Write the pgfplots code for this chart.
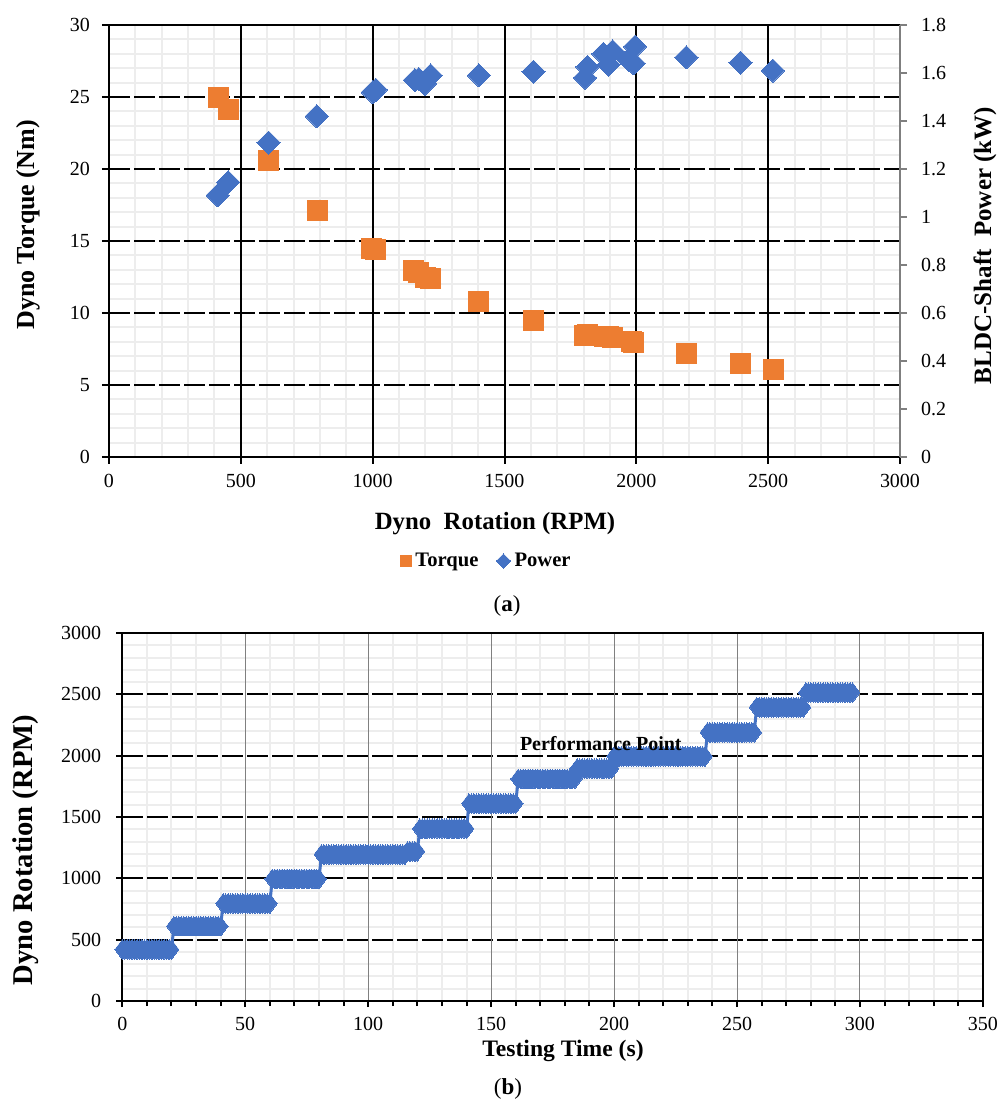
\documentclass[border=0pt]{standalone}
\usepackage{fontspec}
\setmainfont{Liberation Serif}
\usepackage{pgfplots}
\pgfplotsset{compat=1.18}
\definecolor{torq}{HTML}{ED7D31}
\definecolor{powr}{HTML}{4472C4}
\definecolor{mgrid}{HTML}{EDEDED}
\definecolor{raxis}{HTML}{7F7F7F}
\pgfplotsset{
  every axis/.append style={
    /pgf/number format/assume math mode=true,
    /pgf/number format/1000 sep={},
    scaled ticks=false,
    ticklabel style={font=\fontsize{10}{12}\selectfont},
  },
  topbox/.style={at={(54.5pt,321.5pt)}, anchor=south west,
    scale only axis, width=395.5pt, height=216pt,
    xmin=0, xmax=3000, ymin=0, ymax=30,
    xtick={0,500,...,3000}, ytick={0,5,...,30},
    minor x tick num=4, minor y tick num=4},
  botbox/.style={at={(61.15pt,49.5pt)}, anchor=south west,
    scale only axis, width=430.3pt, height=184pt,
    xmin=0, xmax=350, ymin=0, ymax=3000,
    xtick={0,50,...,350}, ytick={0,500,...,3000},
    minor x tick num=4, minor y tick num=4},
  gridonly/.style={axis line style={draw=none}, tick style={draw=none},
    major tick length=0pt, minor tick length=0pt,
    xticklabels={}, yticklabels={}},
}
\begin{document}
\begin{tikzpicture}[x=1pt,y=1pt]
\path[use as bounding box] (0,0) rectangle (504,550);
% ---------------- (a) ----------------
\begin{axis}[topbox, gridonly, xminorgrids, yminorgrids,
  minor grid style={solid, mgrid, line width=1pt}]
\end{axis}
\begin{axis}[topbox, gridonly, ymajorgrids,
  major grid style={black, line width=1pt, dash pattern=on 10.5pt off 2pt}]
\end{axis}
\begin{axis}[topbox, gridonly, xmajorgrids,
  major grid style={solid, black, line width=1pt}]
\end{axis}
\begin{axis}[topbox,
  axis line style={solid, black, line width=1pt},
  xtick pos=bottom, ytick pos=left,
  tick align=outside, major tick length=3.5pt, minor tick length=0pt,
  tick style={solid, black, line width=1pt},
  xticklabel style={yshift=-1.5pt},
  yticklabel style={xshift=-2.5pt},
  legend style={draw=none, fill=none, at={(axis description cs:0.4785,-0.2407)}, anchor=center,
    font=\bfseries\fontsize{10.3}{12}\selectfont, legend columns=2,
    /tikz/every even column/.append style={column sep=7pt}},
  legend image code/.code={\draw[#1] plot coordinates {(3pt,0pt)};},
]
\addlegendimage{only marks, mark=square*, mark size=2.75pt, color=torq, mark options={solid, line width=0pt}}
\addlegendentry{Torque}
\addlegendimage{only marks, mark=square*, mark size=2.5pt, color=powr, mark options={solid, rotate=45, line width=0pt}}
\addlegendentry{Power}
\addplot[forget plot, only marks, mark=square*, mark size=5pt, color=torq, mark options={solid, line width=0pt}] coordinates {
(415,25.0)(452,24.1)(604,20.6)(790,17.1)(995,14.5)(1010,14.4)
(1155,12.95)(1175,12.8)(1200,12.45)(1218,12.4)(1403,10.8)(1610,9.5)
(1805,8.45)(1815,8.5)(1880,8.4)(1894,8.35)(1910,8.3)(1980,8.0)(1989,7.95)
(2190,7.2)(2395,6.5)(2520,6.1)};
\end{axis}
\begin{axis}[
  at={(54.5pt,321.5pt)}, anchor=south west,
  scale only axis, width=395.5pt, height=216pt,
  xmin=0, xmax=3000, ymin=0, ymax=1.8,
  axis x line=none, axis y line*=right,
  ytick={0,0.2,0.4,0.6,0.8,1,1.2,1.4,1.6,1.8},
  y axis line style={solid, raxis, line width=1pt, -},
  tick align=outside, major tick length=3.5pt,
  ytick style={solid, raxis, line width=1pt},
  yticklabel style={xshift=3.5pt, /pgf/number format/fixed},
]
\addplot[only marks, mark=square*, mark size=4.1pt, color=powr, mark options={solid, rotate=45, line width=0pt}] coordinates {
(412,1.09)(452,1.145)(605,1.31)(788,1.42)(1000,1.52)(1012,1.53)
(1160,1.57)(1175,1.575)(1198,1.555)(1220,1.59)(1403,1.59)(1610,1.605)
(1805,1.58)(1815,1.625)(1875,1.68)(1895,1.635)(1910,1.69)(1970,1.655)
(1990,1.64)(1995,1.71)(2190,1.665)(2395,1.643)(2518,1.61)};
\end{axis}
\node[rotate=90, font=\bfseries\fontsize{13}{15}\selectfont] at (14,437.5) {Dyno Torque (Nm)};
\node[rotate=90, font=\bfseries\fontsize{12.5}{15}\selectfont] at (492.5,427.25) {BLDC-Shaft\ \ Power (kW)};
\node[anchor=base, font=\bfseries\fontsize{12.4}{15}\selectfont] at (247.5,285) {Dyno\ \ Rotation (RPM)};
\node[font=\fontsize{11.5}{14}\selectfont] at (253.5,247) {(\textbf{a})};
% ---------------- (b) ----------------
\begin{axis}[botbox, gridonly, xminorgrids, yminorgrids,
  minor grid style={solid, mgrid, line width=1pt}]
\end{axis}
\begin{axis}[botbox, gridonly, ymajorgrids,
  major grid style={black, line width=1pt, dash pattern=on 10.5pt off 2pt}]
\end{axis}
\begin{axis}[botbox, gridonly, xmajorgrids,
  major grid style={solid, gray, line width=0.5pt}]
\end{axis}
\begin{axis}[botbox,
  axis line style={solid, black, line width=1pt},
  xtick pos=bottom, ytick pos=left,
  tick align=outside, major tick length=3pt, minor tick length=2.5pt,
  tick style={solid, black, line width=1pt},
  minor y tick style={draw=none},
  xticklabel style={yshift=-1.5pt},
  yticklabel style={xshift=-4pt},
]
\addplot[color=powr, solid, line width=1.5pt, mark=diamond*, mark size=4.9pt, mark options={line width=0pt, solid}] coordinates {
(0,420)(1,420)(2,420)(3,420)(4,420)(5,420)(6,420)(7,420)(8,420)(9,420)(10,420)(11,420)(12,420)(13,420)(14,420)(15,420)(16,420)(17,420)(18,420)(19,420)(20,420)
(21,610)(22,610)(23,610)(24,610)(25,610)(26,610)(27,610)(28,610)(29,610)(30,610)(31,610)(32,610)(33,610)(34,610)(35,610)(36,610)(37,610)(38,610)(39,610)(40,610)
(41,795)(42,795)(43,795)(44,795)(45,795)(46,795)(47,795)(48,795)(49,795)(50,795)(51,795)(52,795)(53,795)(54,795)(55,795)(56,795)(57,795)(58,795)(59,795)(60,795)
(61,995)(62,995)(63,995)(64,995)(65,995)(66,995)(67,995)(68,995)(69,995)(70,995)(71,995)(72,995)(73,995)(74,995)(75,995)(76,995)(77,995)(78,995)(79,995)(80,995)
(81,1195)(82,1195)(83,1195)(84,1195)(85,1195)(86,1195)(87,1195)(88,1195)(89,1195)(90,1195)(91,1195)(92,1195)(93,1195)(94,1195)(95,1195)(96,1195)(97,1195)(98,1195)(99,1195)(100,1195)
(101,1195)(102,1195)(103,1195)(104,1195)(105,1195)(106,1195)(107,1195)(108,1195)(109,1195)(110,1195)(111,1195)(112,1195)(113,1195)(114,1195)(115,1195)
(116,1220)(117,1220)(118,1220)(119,1220)(120,1220)
(121,1405)(122,1405)(123,1405)(124,1405)(125,1405)(126,1405)(127,1405)(128,1405)(129,1405)(130,1405)(131,1405)(132,1405)(133,1405)(134,1405)(135,1405)(136,1405)(137,1405)(138,1405)(139,1405)(140,1405)
(141,1610)(142,1610)(143,1610)(144,1610)(145,1610)(146,1610)(147,1610)(148,1610)(149,1610)(150,1610)(151,1610)(152,1610)(153,1610)(154,1610)(155,1610)(156,1610)(157,1610)(158,1610)(159,1610)(160,1610)
(161,1810)(162,1810)(163,1810)(164,1810)(165,1810)(166,1810)(167,1810)(168,1810)(169,1810)(170,1810)(171,1810)(172,1810)(173,1810)(174,1810)(175,1810)(176,1810)(177,1810)(178,1810)(179,1810)(180,1810)(181,1810)(182,1810)(183,1810)(184,1810)
(185,1895)(186,1895)(187,1895)(188,1895)(189,1895)(190,1895)(191,1895)(192,1895)(193,1895)(194,1895)(195,1895)(196,1895)(197,1895)(198,1895)(199,1895)
(200,1995)(201,1995)(202,1995)(203,1995)(204,1995)(205,1995)(206,1995)(207,1995)(208,1995)(209,1995)(210,1995)(211,1995)(212,1995)(213,1995)(214,1995)(215,1995)(216,1995)(217,1995)(218,1995)(219,1995)
(220,1995)(221,1995)(222,1995)(223,1995)(224,1995)(225,1995)(226,1995)(227,1995)(228,1995)(229,1995)(230,1995)(231,1995)(232,1995)(233,1995)(234,1995)(235,1995)(236,1995)(237,1995)
(238,2190)(239,2190)(240,2190)(241,2190)(242,2190)(243,2190)(244,2190)(245,2190)(246,2190)(247,2190)(248,2190)(249,2190)(250,2190)(251,2190)(252,2190)(253,2190)(254,2190)(255,2190)(256,2190)(257,2190)
(258,2395)(259,2395)(260,2395)(261,2395)(262,2395)(263,2395)(264,2395)(265,2395)(266,2395)(267,2395)(268,2395)(269,2395)(270,2395)(271,2395)(272,2395)(273,2395)(274,2395)(275,2395)(276,2395)(277,2395)
(278,2515)(279,2515)(280,2515)(281,2515)(282,2515)(283,2515)(284,2515)(285,2515)(286,2515)(287,2515)(288,2515)(289,2515)(290,2515)(291,2515)(292,2515)(293,2515)(294,2515)(295,2515)(296,2515)(297,2515)
};
\end{axis}
\node[anchor=base, font=\bfseries\fontsize{10}{12}\selectfont] at (300.4,174.7) {Performance Point};
\node[rotate=90, font=\bfseries\fontsize{14.3}{17}\selectfont] at (13,125) {Dyno Rotation (RPM)};
\node[anchor=base, font=\bfseries\fontsize{11.8}{14}\selectfont] at (281.5,21.7) {Testing Time (s)};
\node[font=\fontsize{11.5}{14}\selectfont] at (254,5.5) {(\textbf{b})};
\end{tikzpicture}
\end{document}
